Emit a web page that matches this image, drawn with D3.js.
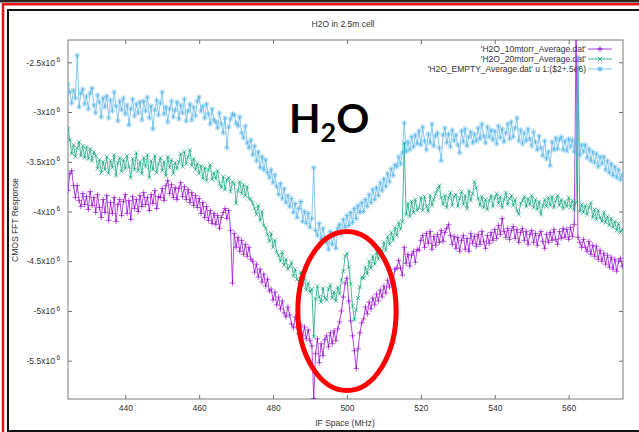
<!DOCTYPE html>
<html>
<head>
<meta charset="utf-8">
<script src="https://cdn.jsdelivr.net/npm/d3@7"></script>
<style>
  html, body { margin: 0; padding: 0; background: #fff; }
  svg { display: block; font-family: "Liberation Sans", Arial, Helvetica, sans-serif; }
</style>
</head>
<body>
<svg id="chart" width="639" height="432"></svg>
<script>
// Spectra sampled every 0.5 MHz starting at 424.5 MHz; values in units of 10^6.
const freqStart = 424.5;
const freqStep = 0.5;

const xTicks = [440, 460, 480, 500, 520, 540, 560];
const yTicks = [-2.5, -3, -3.5, -4, -4.5, -5, -5.5];

const legendLabels = [
  "'H2O_10mtorr_Average.dat'",
  "'H2O_20mtorr_Average.dat'",
  "'H2O_EMPTY_Average.dat' u 1:($2+.5e6)"
];

// 10 mtorr
const h2o10 = [
  -3.79,-3.62,-3.59,-3.74,-3.86,-3.74,-3.89,-3.95,-3.82,-3.93,
  -3.85,-3.98,-3.80,-3.94,-3.86,-4.01,-3.83,-3.96,-4.06,-3.88,
  -4.01,-3.84,-4.09,-3.91,-4.02,-3.86,-4.10,-3.93,-3.88,-4.04,
  -3.90,-3.83,-4.02,-3.89,-4.08,-3.85,-3.97,-3.88,-4.00,-3.84,
  -3.95,-3.81,-3.93,-3.86,-3.99,-3.83,-3.92,-3.79,-3.97,-3.85,
  -3.86,-3.77,-3.89,-3.74,-3.69,-3.82,-3.73,-3.86,-3.76,-3.88,
  -3.77,-3.71,-3.85,-3.75,-3.88,-3.78,-3.91,-3.81,-3.94,-3.84,
  -3.96,-3.87,-4.02,-3.91,-4.06,-3.95,-4.09,-3.99,-4.12,-4.02,
  -4.13,-4.04,-4.17,-4.06,-4.01,-3.97,-4.07,-3.99,-4.19,-4.72,
  -4.22,-4.36,-4.26,-4.40,-4.29,-4.43,-4.33,-4.45,-4.36,-4.48,
  -4.50,-4.61,-4.53,-4.66,-4.58,-4.71,-4.63,-4.75,-4.68,-4.80,
  -4.78,-4.89,-4.81,-4.94,-4.86,-4.98,-4.90,-5.02,-5.06,-4.96,
  -5.04,-5.13,-5.17,-5.06,-5.16,-5.23,-5.14,-5.25,-5.16,-5.28,
  -5.19,-5.30,-5.35,-5.88,-5.43,-5.28,-5.52,-5.33,-5.45,-5.29,
  -5.25,-5.36,-5.22,-5.33,-5.20,-5.30,-5.18,-5.11,-5.00,-4.86,
  -4.72,-4.67,-4.90,-5.10,-5.25,-5.40,-5.58,-5.38,-5.22,-5.12,
  -5.08,-4.96,-5.03,-4.91,-4.98,-4.87,-4.94,-4.83,-4.90,-4.79,
  -4.86,-4.75,-4.82,-4.69,-4.76,-4.64,-4.71,-4.58,-4.57,-4.49,
  -4.57,-4.64,-4.36,-4.52,-4.43,-4.55,-4.44,-4.40,-4.51,-4.38,
  -4.39,-4.29,-4.24,-4.36,-4.22,-4.32,-4.20,-4.38,-4.25,-4.34,
  -4.23,-4.31,-4.19,-4.30,-4.21,-4.17,-4.13,-4.24,-4.33,-4.25,
  -4.37,-4.26,-4.40,-4.29,-4.24,-4.38,-4.27,-4.40,-4.22,-4.32,
  -4.25,-4.35,-4.23,-4.33,-4.20,-4.30,-4.37,-4.24,-4.32,-4.21,
  -4.29,-4.18,-4.27,-4.14,-4.23,-4.07,-4.20,-4.26,-4.17,-4.28,
  -4.19,-4.15,-4.27,-4.18,-4.31,-4.21,-4.17,-4.29,-4.20,-4.33,
  -4.23,-4.19,-4.31,-4.22,-4.34,-4.24,-4.20,-4.30,-4.37,-4.23,
  -4.31,-4.21,-4.29,-4.18,-4.28,-4.33,-4.20,-4.27,-4.17,-4.26,
  -4.18,-4.28,-4.16,-4.25,-4.13,-2.20,-4.26,-4.31,-4.36,-4.28,
  -4.36,-4.40,-4.30,-4.43,-4.34,-4.45,-4.35,-4.48,-4.39,-4.50,
  -4.42,-4.53,-4.44,-4.56,-4.46,-4.58,-4.48,-4.60,-4.50,-4.47,
  -4.55
];

// 20 mtorr
const h2o20 = [
  -3.17,-3.28,-3.42,-3.33,-3.45,-3.36,-3.30,-3.44,-3.34,-3.46,
  -3.35,-3.47,-3.37,-3.49,-3.40,-3.44,-3.57,-3.48,-3.61,-3.50,
  -3.58,-3.45,-3.62,-3.49,-3.56,-3.43,-3.64,-3.51,-3.46,-3.60,
  -3.48,-3.57,-3.44,-3.55,-3.66,-3.47,-3.58,-3.41,-3.59,-3.50,
  -3.62,-3.46,-3.55,-3.43,-3.66,-3.49,-3.58,-3.44,-3.61,-3.52,
  -3.46,-3.59,-3.50,-3.64,-3.45,-3.56,-3.48,-3.62,-3.51,-3.57,
  -3.50,-3.42,-3.55,-3.40,-3.52,-3.45,-3.38,-3.54,-3.47,-3.58,
  -3.52,-3.62,-3.54,-3.67,-3.56,-3.69,-3.58,-3.53,-3.68,-3.61,
  -3.67,-3.59,-3.72,-3.76,-3.65,-3.78,-3.68,-3.66,-3.80,-3.70,
  -3.72,-3.92,-3.79,-3.70,-3.82,-3.73,-3.84,-3.75,-3.87,-3.88,
  -3.92,-3.97,-4.03,-3.94,-4.09,-4.00,-4.14,-4.17,-4.23,-4.30,
  -4.22,-4.36,-4.29,-4.41,-4.44,-4.50,-4.41,-4.54,-4.48,-4.58,
  -4.55,-4.51,-4.65,-4.58,-4.68,-4.71,-4.61,-4.74,-4.67,-4.79,
  -4.72,-4.81,-4.78,-5.26,-4.88,-4.75,-4.86,-4.91,-4.77,-4.87,
  -4.89,-4.78,-4.74,-4.87,-4.81,-4.90,-4.76,-4.83,-4.69,-4.60,
  -4.45,-4.42,-4.56,-4.73,-4.95,-5.09,-4.99,-4.87,-4.76,-4.66,
  -4.67,-4.56,-4.63,-4.50,-4.57,-4.45,-4.53,-4.41,-4.48,-4.37,
  -4.43,-4.31,-4.39,-4.25,-4.33,-4.21,-4.29,-4.16,-4.24,-4.11,
  -4.18,-4.10,-3.31,-4.03,-3.92,-4.05,-3.90,-4.01,-3.88,-3.99,
  -3.96,-3.86,-3.99,-3.85,-3.95,-4.00,-3.84,-3.94,-3.88,-3.82,
  -3.78,-3.74,-3.86,-3.93,-3.84,-3.96,-3.86,-3.81,-3.94,-3.85,
  -3.83,-3.95,-3.87,-3.80,-3.93,-3.84,-3.97,-3.79,-3.89,-3.82,
  -3.70,-3.76,-3.87,-3.94,-3.85,-3.96,-3.88,-3.98,-3.89,-3.84,
  -3.95,-3.86,-3.82,-3.92,-3.85,-3.96,-3.88,-3.81,-3.93,-3.87,
  -3.84,-3.94,-3.88,-3.99,-4.03,-3.92,-3.89,-3.85,-3.95,-3.87,
  -3.93,-3.84,-3.96,-3.88,-3.98,-3.90,-4.03,-3.94,-3.88,-3.95,
  -3.86,-3.94,-3.85,-3.96,-3.89,-3.84,-3.94,-3.88,-3.97,-3.90,
  -3.95,-3.86,-3.96,-3.89,-3.98,-3.91,-2.55,-4.00,-3.93,-4.01,
  -3.94,-4.03,-3.96,-3.91,-4.06,-3.98,-4.08,-3.99,-4.06,-4.10,
  -4.01,-4.11,-4.05,-4.14,-4.07,-4.16,-4.10,-4.19,-4.12,-4.21,
  -4.18
];

// Empty cell, offset by +0.5x10^6
const h2oEmpty = [
  -2.72,-2.80,-2.91,-2.78,-2.86,-2.43,-2.95,-2.81,-2.77,-2.92,
  -2.84,-2.97,-2.81,-2.76,-2.93,-3.01,-2.83,-2.90,-3.05,-2.86,
  -2.95,-2.84,-3.06,-2.88,-2.99,-2.80,-2.94,-3.09,-2.89,-2.98,
  -2.86,-3.02,-2.93,-3.13,-2.97,-2.87,-3.04,-2.92,-3.01,-2.90,
  -3.08,-2.89,-2.99,-2.85,-3.06,-2.94,-3.17,-2.98,-2.88,-3.03,
  -2.91,-2.80,-3.02,-2.95,-3.10,-2.97,-2.89,-3.05,-2.98,-2.90,
  -3.07,-2.93,-3.01,-2.87,-3.09,-2.99,-2.92,-3.08,-2.95,-3.04,
  -2.89,-2.85,-2.99,-2.94,-3.06,-2.92,-3.02,-3.12,-2.97,-3.08,
  -3.10,-3.16,-3.01,-3.12,-3.21,-3.06,-3.36,-3.15,-3.07,-3.02,
  -3.03,-3.11,-3.14,-3.05,-3.21,-3.26,-3.14,-3.31,-3.36,-3.28,
  -3.43,-3.34,-3.49,-3.40,-3.56,-3.45,-3.58,-3.48,-3.61,-3.66,
  -3.58,-3.71,-3.63,-3.75,-3.83,-3.72,-3.87,-3.77,-3.91,-3.84,
  -3.95,-3.87,-4.01,-3.92,-4.06,-3.97,-3.90,-4.10,-4.00,-4.12,
  -4.02,-4.16,-4.07,-3.56,-4.19,-4.24,-4.12,-4.28,-4.17,-4.26,
  -4.31,-4.38,-4.20,-4.33,-4.24,-4.37,-4.17,-4.13,-4.23,-4.08,
  -4.16,-4.04,-4.14,-4.01,-4.11,-3.97,-4.07,-3.94,-4.01,-3.91,
  -4.00,-3.88,-3.95,-3.83,-3.91,-3.78,-3.88,-3.76,-3.84,-3.71,
  -3.79,-3.67,-3.75,-3.62,-3.70,-3.57,-3.64,-3.53,-3.55,-3.45,
  -3.52,-3.41,-3.11,-3.40,-3.30,-3.38,-3.25,-3.35,-3.23,-3.32,
  -3.19,-3.33,-3.15,-3.29,-3.38,-3.22,-3.31,-3.12,-3.34,-3.24,
  -3.21,-3.36,-3.49,-3.23,-3.16,-3.31,-3.22,-3.35,-3.18,-3.29,
  -3.23,-3.33,-3.41,-3.19,-3.30,-3.17,-3.34,-3.25,-3.20,-3.31,
  -3.22,-3.29,-3.16,-3.27,-3.12,-3.24,-3.31,-3.15,-3.25,-3.18,
  -3.28,-3.19,-3.32,-3.14,-3.26,-3.17,-3.30,-3.21,-3.12,-3.27,
  -3.10,-3.25,-3.16,-3.06,-3.29,-3.18,-3.32,-3.21,-3.29,-3.17,
  -3.27,-3.34,-3.20,-3.30,-3.38,-3.24,-3.36,-3.44,-3.29,-3.47,
  -3.40,-3.54,-3.30,-3.38,-3.26,-3.37,-3.28,-3.25,-3.38,-3.29,
  -3.39,-3.27,-3.35,-3.28,-3.40,-3.31,-2.45,-3.43,-3.33,-3.40,
  -3.33,-3.46,-3.37,-3.49,-3.40,-3.51,-3.42,-3.55,-3.45,-3.52,
  -3.45,-3.58,-3.49,-3.61,-3.52,-3.64,-3.55,-3.66,-3.58,-3.68,
  -3.63
];

const seriesColors = ["#9400d3", "#009e73", "#56b4e9"];
const seriesMarkers = ["plus", "cross", "star"];

const svg = d3.select("#chart");
const W = 639, H = 432;
const plot = { left: 68, right: 623, top: 40, bottom: 399 };

svg.append("rect").attr("width", W).attr("height", H).attr("fill", "#fff");

// Page frame
svg.append("rect").attr("x", 0).attr("y", 0).attr("width", W).attr("height", 2.5).attr("fill", "#2e2422");
svg.append("path").attr("d", "M3,432V4.2H639").attr("fill", "none").attr("stroke", "#ee1111").attr("stroke-width", 2.5);
svg.append("path").attr("d", "M8,432V10H639").attr("fill", "none").attr("stroke", "#111").attr("stroke-width", 2);
svg.append("path").attr("d", "M8,431H639").attr("fill", "none").attr("stroke", "#111").attr("stroke-width", 2);

const x = d3.scaleLinear().domain([424.5, 574.7]).range([plot.left, plot.right]);
const y = d3.scaleLinear().domain([-5.885, -2.276]).range([plot.bottom, plot.top]);

const freqs = h2o10.map((_, i) => freqStart + i * freqStep);

const tickColor = "#6e6e6e";
const textColor = "#333";

// Axes with inward ticks, mirrored on top and right
const axB = svg.append("g").attr("transform", `translate(0,${plot.bottom})`)
  .call(d3.axisBottom(x).tickValues(xTicks).tickSize(-4).tickPadding(6));
const axT = svg.append("g").attr("transform", `translate(0,${plot.top})`)
  .call(d3.axisTop(x).tickValues(xTicks).tickSize(-4).tickFormat(() => ""));
const axL = svg.append("g").attr("transform", `translate(${plot.left},0)`)
  .call(d3.axisLeft(y).tickValues(yTicks).tickSize(-4).tickPadding(8).tickFormat(() => ""));
const axR = svg.append("g").attr("transform", `translate(${plot.right},0)`)
  .call(d3.axisRight(y).tickValues(yTicks).tickSize(-4).tickFormat(() => ""));

[axB, axT, axL, axR].forEach(g => {
  g.select(".domain").remove();
  g.selectAll(".tick line").attr("stroke", tickColor);
  g.selectAll(".tick text").attr("fill", textColor).attr("font-size", 8.5)
    .attr("font-family", "Liberation Sans, Arial, sans-serif");
});

axL.selectAll(".tick text").each(function(d) {
  const t = d3.select(this);
  t.append("tspan").text(`${d}x10`);
  t.append("tspan").attr("dx", 1.5).attr("dy", -3.5).attr("font-size", 6.5).text("6");
});

svg.append("rect")
  .attr("x", plot.left).attr("y", plot.top)
  .attr("width", plot.right - plot.left).attr("height", plot.bottom - plot.top)
  .attr("fill", "none").attr("stroke", "#7a7a7a").attr("stroke-width", 1);

// Titles
svg.append("text").attr("x", 343).attr("y", 27).attr("text-anchor", "middle")
  .attr("font-size", 8.5).attr("fill", textColor).text("H2O in 2.5m cell");
svg.append("text").attr("x", 345).attr("y", 426).attr("text-anchor", "middle")
  .attr("font-size", 8.5).attr("fill", textColor).text("IF Space (MHz)");
svg.append("text").attr("transform", "translate(18,220) rotate(-90)").attr("text-anchor", "middle")
  .attr("font-size", 8.5).attr("fill", textColor).text("CMOS FFT Response");

// Point glyphs
function glyph(kind, cx, cy, r) {
  const plus = `M${cx - r},${cy}H${cx + r}M${cx},${cy - r}V${cy + r}`;
  const d = r * 0.75;
  const cross = `M${cx - d},${cy - d}L${cx + d},${cy + d}M${cx - d},${cy + d}L${cx + d},${cy - d}`;
  if (kind === "plus") return plus;
  if (kind === "cross") return cross;
  return plus + cross;
}

// Legend
const legendRows = [49, 59, 69];
legendLabels.forEach((label, i) => {
  svg.append("text").attr("x", 586).attr("y", legendRows[i] + 3)
    .attr("text-anchor", "end").attr("font-size", 8.5).attr("fill", textColor).text(label);
});

svg.append("defs").append("clipPath").attr("id", "plotClip")
  .append("rect").attr("x", plot.left).attr("y", plot.top)
  .attr("width", plot.right - plot.left).attr("height", plot.bottom - plot.top);

const seriesData = [h2o10, h2o20, h2oEmpty];
const line = d3.line().x((d, i) => x(freqs[i])).y(d => y(d));
const markerSize = 2.8;

seriesData.forEach((vals, k) => {
  const g = svg.append("g").attr("clip-path", "url(#plotClip)");
  g.append("path").attr("d", line(vals)).attr("fill", "none")
    .attr("stroke", seriesColors[k]).attr("stroke-width", 0.9).attr("stroke-opacity", 0.8);
  const pts = vals.map((v, i) => glyph(seriesMarkers[k], x(freqs[i]), y(v), markerSize)).join("");
  g.append("path").attr("d", pts).attr("fill", "none")
    .attr("stroke", seriesColors[k]).attr("stroke-width", 0.9).attr("stroke-opacity", 0.7);

  // legend sample
  const ly = legendRows[k];
  svg.append("path").attr("d", `M588,${ly}H612`).attr("stroke", seriesColors[k])
    .attr("stroke-width", 0.9).attr("stroke-opacity", 0.85);
  svg.append("path").attr("d", glyph(seriesMarkers[k], 600, ly, markerSize)).attr("fill", "none")
    .attr("stroke", seriesColors[k]).attr("stroke-width", 0.9);
});

// Annotation: molecule label and highlighted absorption region
const label = svg.append("text").attr("x", x(484.3)).attr("y", y(-3.21))
  .attr("font-family", "Lato, 'Open Sans', sans-serif").attr("font-weight", 700)
  .attr("font-size", 41).attr("fill", "#000");
label.append("tspan").text("H");
label.append("tspan").attr("dy", 9).attr("font-size", 27).text("2");
label.append("tspan").attr("dy", -9).text("O");

svg.append("ellipse")
  .attr("cx", x(500)).attr("cy", y(-5.0))
  .attr("rx", x(513.3) - x(500)).attr("ry", y(-5.8) - y(-5.0))
  .attr("fill", "none").attr("stroke", "#ff0000").attr("stroke-width", 5);
</script>
</body>
</html>
